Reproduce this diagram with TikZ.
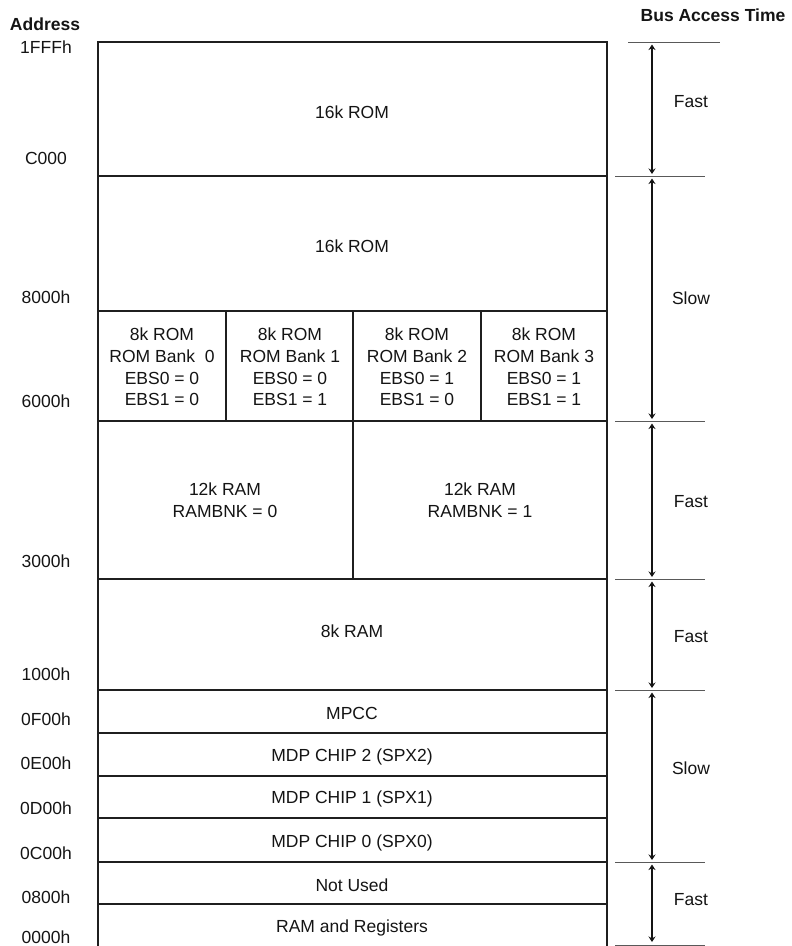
\documentclass[tikz,border=0pt]{standalone}
\usepackage{fontspec}
\setmainfont{Liberation Sans}
\usetikzlibrary{arrows.meta}
\begin{document}
\begin{tikzpicture}[x=1pt,y=-1pt,
  lbl/.style={font=\fontsize{17.5}{21.7}\selectfont, align=center, inner sep=0pt, text=black!92},
  hdr/.style={font=\fontsize{17.5}{20}\selectfont\bfseries, inner sep=0pt, text=black!92},
  box/.style={line width=1.5pt, draw=black!88},
  tick/.style={line width=1pt, draw=black!65},
  span/.style={line width=2.8pt, draw=black!92, {Stealth[length=5.5pt,width=7pt]}-{Stealth[length=5.5pt,width=7pt]}},
]
\useasboundingbox (0,0) rectangle (792,946);

% headers
\node[hdr] (haddr) at (45,24) {Address};
\node[hdr] (hbus) at (713,15) {Bus Access Time};

% main memory map frame
\draw[box] (98,42) rectangle (607,949);
\foreach \yy in {176,311,421,579,690,733,776,818,862,904}
  \draw[box] (98,\yy) -- (607,\yy);
\foreach \xx in {226,353,481}
  \draw[box] (\xx,311) -- (\xx,421);
\draw[box] (353,421) -- (353,579);

% region texts
\node[lbl] (r1) at (352,112) {16k ROM};
\node[lbl] (r2) at (352,246) {16k ROM};
\node[lbl] (b0) at (162,367) {8k ROM\\ROM Bank\ \ 0\\EBS0 = 0\\EBS1 = 0};
\node[lbl] (b1) at (290,367) {8k ROM\\ROM Bank 1\\EBS0 = 0\\EBS1 = 1};
\node[lbl] (b2) at (417,367) {8k ROM\\ROM Bank 2\\EBS0 = 1\\EBS1 = 0};
\node[lbl] (b3) at (544,367) {8k ROM\\ROM Bank 3\\EBS0 = 1\\EBS1 = 1};
\node[lbl] (ram0) at (225,500) {12k RAM\\RAMBNK = 0};
\node[lbl] (ram1) at (480,500) {12k RAM\\RAMBNK = 1};
\node[lbl] (ram8) at (352,631) {8k RAM};
\node[lbl] (mpcc) at (352,713) {MPCC};
\node[lbl] (mdp2) at (352,757) {MDP CHIP 2 (SPX2)};
\node[lbl] (mdp1) at (352,799) {MDP CHIP 1 (SPX1)};
\node[lbl] (mdp0) at (352,843) {MDP CHIP 0 (SPX0)};
\node[lbl] (nu) at (352,885) {Not Used};
\node[lbl] (rr) at (352,928) {RAM and Registers};

% addresses
\node[lbl] (a1) at (46,47) {1FFFh};
\node[lbl] (a2) at (46,158) {C000};
\node[lbl] (a3) at (46,297) {8000h};
\node[lbl] (a4) at (46,401) {6000h};
\node[lbl] (a5) at (46,561) {3000h};
\node[lbl] (a6) at (46,674) {1000h};
\node[lbl] (a7) at (46,719) {0F00h};
\node[lbl] (a8) at (46,763) {0E00h};
\node[lbl] (a9) at (46,808) {0D00h};
\node[lbl] (a10) at (46,853) {0C00h};
\node[lbl] (a11) at (46,897) {0800h};
\node[lbl] (a12) at (46,937) {0000h};

% bus access time boundaries
\draw[tick] (628,42) -- (720,42);
\foreach \yy in {176,421,579,690,862,945}
  \draw[tick] (615,\yy) -- (705,\yy);

\coordinate (t0) at (652,44.5);
\coordinate (t1a) at (652,174);
\coordinate (t1b) at (652,178.5);
\coordinate (t2a) at (652,419);
\coordinate (t2b) at (652,423.5);
\coordinate (t3a) at (652,577);
\coordinate (t3b) at (652,581.5);
\coordinate (t4a) at (652,688);
\coordinate (t4b) at (652,692.5);
\coordinate (t5a) at (652,860);
\coordinate (t5b) at (652,864.5);
\coordinate (t6) at (652,942);
\draw[span] (t0) -- (t1a);
\draw[span] (t1b) -- (t2a);
\draw[span] (t2b) -- (t3a);
\draw[span] (t3b) -- (t4a);
\draw[span] (t4b) -- (t5a);
\draw[span] (t5b) -- (t6);

\node[lbl] (s1) at (691,102) {Fast};
\node[lbl] (s2) at (691,298) {Slow};
\node[lbl] (s3) at (691,502) {Fast};
\node[lbl] (s4) at (691,637) {Fast};
\node[lbl] (s5) at (691,768) {Slow};
\node[lbl] (s6) at (691,900) {Fast};
\end{tikzpicture}
\end{document}
